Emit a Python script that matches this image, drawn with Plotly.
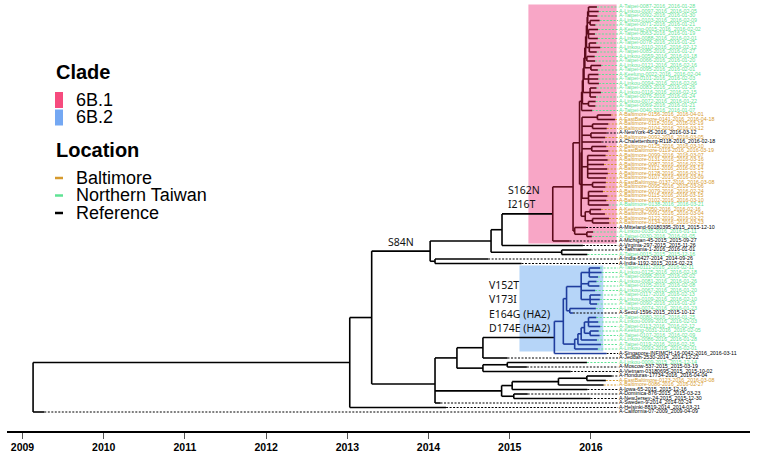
import plotly.graph_objects as go
from datetime import date

# ---------------- data ----------------
tip_labels = [
    "A-Taipei-0087-2016_2016-01-28", "A-Linkou-0097-2016_2016-02-05", "A-Taipei-0092-2016_2016-01-30",
    "A-Linkou-0103-2016_2016-02-09", "A-Taipei-0071-2016_2016-01-21", "A-Keelung-0015-2016_2016-02-02",
    "A-Taipei-0063-2016_2016-01-19", "A-Linkou-0088-2016_2016-02-01", "A-Taipei-0078-2016_2016-01-25",
    "A-Linkou-0110-2016_2016-02-12", "A-Taipei-0085-2016_2016-01-27", "A-Linkou-0059-2016_2016-01-18",
    "A-Taipei-0066-2016_2016-01-20", "A-Linkou-0121-2016_2016-02-16", "A-Taipei-0095-2016_2016-02-01",
    "A-Keelung-0022-2016_2016-02-04", "A-Taipei-0101-2016_2016-02-03", "A-Linkou-0094-2016_2016-02-06",
    "A-Taipei-0083-2016_2016-01-26", "A-Linkou-0116-2016_2016-02-15", "A-Taipei-0076-2016_2016-01-24",
    "A-Linkou-0072-2016_2016-01-22", "A-Taipei-0069-2016_2016-01-21", "A-Taipei-0040-2016_2016-01-07",
    "A-Baltimore-0156-2016_2016-04-01", "A-EastBaltimore-0141-2016_2016-04-18", "A-Baltimore-0118-2016_2016-03-19",
    "A-Baltimore-0104-2016_2016-03-12", "A-NewYork-45-2016_2016-03-12", "A-Baltimore-0092-2016_2016-03-05",
    "A-Chalettenburg-R118-2016_2016-02-18", "A-Baltimore-0125-2016_2016-03-10", "A-EastBaltimore-0119-2016_2016-03-19",
    "A-Baltimore-0099-2016_2016-03-07", "A-Baltimore-0131-2016_2016-03-16", "A-Baltimore-0087-2016_2016-02-29",
    "A-Baltimore-0112-2016_2016-03-14", "A-Baltimore-0128-2016_2016-03-17", "A-Baltimore-0107-2016_2016-03-09",
    "A-EastBaltimore-0137-2016_2016-03-08", "A-Baltimore-0095-2016_2016-03-06", "A-Baltimore-0079-2016_2016-02-24",
    "A-Baltimore-0115-2016_2016-03-15", "A-Baltimore-0102-2016_2016-03-10", "A-Baltimore-0138-2016_2016-03-21",
    "A-Keelung-0050-2016_2016-02-16", "A-Baltimore-0091-2016_2016-03-04", "A-Baltimore-0122-2016_2016-03-22",
    "A-Baltimore-0134-2016_2016-03-23", "A-Mitteland-60180395-2015_2015-12-10", "A-Linkou-0035-2016_2016-01-11",
    "A-Taipei-0030-2016_2016-01-05", "A-Michigan-45-2015_2015-09-27", "A-Virginia-297-2015_2015-11-26",
    "A-Tasmania-1-2016_2016-01-01", "A-Taipei-0015-2015_2015-12-16", "A-India-6427-2014_2014-09-26",
    "A-India-1192-2015_2015-02-23",
    "A-Taipei-0111-2016_2016-02-11", "A-Linkou-0125-2016_2016-02-18", "A-Taipei-0098-2016_2016-02-02",
    "A-Linkou-0081-2016_2016-01-26", "A-Taipei-0105-2016_2016-02-08", "A-Linkou-0067-2016_2016-01-20",
    "A-Taipei-0117-2016_2016-02-13", "A-Linkou-0109-2016_2016-02-10", "A-Taipei-0090-2016_2016-01-29",
    "A-Linkou-0074-2016_2016-01-23", "A-Seoul-1596-2015_2015-10-12", "A-Taipei-0080-2016_2016-01-25",
    "A-Linkou-0099-2016_2016-02-03", "A-Taipei-0113-2016_2016-02-12", "A-Keelung-0031-2016_2016-02-05",
    "A-Taipei-0107-2016_2016-02-09", "A-Linkou-0086-2016_2016-01-28", "A-Taipei-0119-2016_2016-02-15",
    "A-Linkou-0093-2016_2016-02-01",
    "A-Singapore-INFIMCH-16-0042-2016_2016-03-11", "A-Jeddah-2530-2014_2014-12-22", "A-Linkou-0009-2015_2015-12-14",
    "A-Moscow-537-2015_2015-03-19", "A-Vietnam-03180695-2015_2015-10-02", "A-Honduras-17734-2016_2016-04-04",
    "A-EastBaltimore-0123-2016_2016-03-08", "A-Baltimore-0086-2016_2016-02-27", "A-Iowa-65-2015_2015-12-16",
    "A-Dominica-876-2015_2015-03-23", "A-NewJersey-24-2015_2015-12-30", "A-Sweden-9-2014_2014-02-24",
    "A-Helsinki-8819-2014_2014-03-21", "A-California-07-2009_2009-04-09",
]
# N = Northern Taiwan, B = Baltimore, R = Reference
tip_location = list(
    "NNNNNNNNNNNNNNNNNNNNNNNN"
    "BBBBRBRBBBBBBBBBBBBBNBBB"
    "B"
    "RNNRRRNRR"
    "NNNNNNNNNNRNNNNNNNN"
    "RRNRRRBBRRRRRR"
)
tip_parent = (
    ["G1"] * 3 + ["G2"] * 2 + ["G3"] * 3 + ["G4"] * 3 + ["G5"] * 2 + ["G6"] * 2 + ["G7"] * 3 + ["G8"] * 3
    + ["G9"] * 2 + ["PG"]
    + ["O1"] * 2 + ["O2"] * 2 + ["O3"] * 2 + ["PO1"] + ["O4"] * 2 + ["O5"] * 6 + ["O6"] * 2 + ["O7"] * 4
    + ["O8"] * 2 + ["O9"] * 2
    + ["PM", "PL", "PL", "P1", "N6", "N7", "N7", "NI", "NI"]
    + ["B6"] * 3 + ["B7"] * 2 + ["B4"] + ["B8"] * 3 + ["B5", "B5"] + ["B9"] * 3 + ["B10"] * 2
    + ["B3b", "B3a", "B3"]
    + ["B0", "N11", "N13", "N13", "N12", "N18", "N18", "N17", "N15", "N16", "N16", "N4", "N1", "R"]
)

node_names = ["R", "N1", "N2", "N3", "N5", "N6", "P1", "P2", "P3", "PG",
              "L1", "L2", "L3", "L4", "L5", "L6", "L7", "L8",
              "G1", "G2", "G3", "G4", "G5", "G6", "G7", "G8", "G9",
              "PO", "PO1", "PO2", "O1", "O2", "O3", "O4", "O5", "O6", "O7", "O8", "O9",
              "PM", "PL", "N7", "NI", "N4", "N9", "N11", "B0", "B1", "B2", "B4",
              "B6", "B7", "B8", "B5", "B3", "B3a", "B3b", "B3c", "B9", "B10",
              "N12", "N13", "N10", "N15", "N17", "N18", "N16"]
node_parent = [None, "R", "N1", "N2", "N3", "N5", "N6", "P1", "P2", "P3",
               "PG", "L1", "L2", "L3", "L4", "L5", "L6", "L7",
               "L8", "L8", "L7", "L6", "L5", "L4", "L3", "L2", "L1",
               "P3", "PO", "PO", "PO1", "PO1", "PO1", "PO1", "PO1", "PO1", "PO1", "PO2", "PO2",
               "P2", "PM", "N5", "N3", "N2", "N4", "N9", "N11", "B0", "B1", "B2",
               "B4", "B4", "B4", "B2", "B1", "B3", "B3a", "B3b", "B3c", "B3c",
               "N9", "N12", "N4", "N10", "N15", "N17", "N10"]
node_date = [2009.13, 2013.03, 2013.30, 2014.02, 2014.77, 2014.905, 2015.53, 2015.78, 2015.86, 2015.885,
             2015.895, 2015.905, 2015.915, 2015.925, 2015.935, 2015.945, 2015.955, 2015.96,
             2015.97, 2015.99, 2015.97, 2015.98, 2015.95, 2016.00, 2015.97, 2015.99, 2015.97,
             2015.88, 2015.89, 2015.93, 2016.08, 2016.02, 2016.00, 2016.01, 2015.96, 2016.02, 2015.97, 2015.99, 2016.02,
             2015.80, 2015.95, 2015.64, 2014.08, 2014.08, 2014.35, 2014.67, 2015.55, 2015.66, 2015.70, 2015.88,
             2015.98, 2015.97, 2015.99, 2015.74, 2015.80, 2015.84, 2015.88, 2015.92, 2015.97, 2015.99,
             2014.67, 2014.97, 2014.90, 2015.03, 2015.60, 2015.95, 2015.05]

clade_names = ["6B.1", "6B.2"]
clade_roots = ["P1", "B0"]
clade_box_start = [2015.23, 2015.12]
clade_box_tips = [(0, 52), (58, 76)]

mutation_groups = [["S84N"], ["S162N", "I216T"], ["V152T", "V173I", "E164G (HA2)", "D174E (HA2)"]]
mutation_nodes = ["N3", "P1", "B0"]

year_ticks = [2009, 2010, 2011, 2012, 2013, 2014, 2015, 2016]
location_names = ["Baltimore", "Northern Taiwan", "Reference"]

# ---------------- styles ----------------
LOC_COLOR = {"B": "#d69a2d", "N": "#5fe394", "R": "#000000"}
CLADE_FILL = ["#f8a6c6", "#b6d5f8"]
CLADE_LEGEND = ["#f64b7e", "#74a8f3"]
CLADE_LINE = ["#5c0b1b", "#1f3d9e"]
FONT = "Liberation Sans, Arial, sans-serif"

def dec_year(s):
    y, m, d = map(int, s[-10:].split("-"))
    dt = date(y, m, d)
    return y + (dt - date(y, 1, 1)).days / 365.0

tip_date = [dec_year(s) for s in tip_labels]
label_x = 2016.345

# ---------------- tree layout ----------------
parent = {}
xdate = {}
for n, p, d in zip(node_names, node_parent, node_date):
    parent[n] = p
    xdate[n] = d
children = {n: [] for n in node_names}
ypos = {}
for i, (p, d) in enumerate(zip(tip_parent, tip_date)):
    t = "t%d" % i
    parent[t] = p
    xdate[t] = d
    ypos[t] = i
    children[p].append(t)
for n, p in zip(node_names, node_parent):
    if p is not None:
        children[p].append(n)

def get_y(n):
    if n in ypos:
        return ypos[n]
    ys = [get_y(c) for c in children[n]]
    ypos[n] = sum(ys) / len(ys)
    return ypos[n]

get_y("R")

def clade_of(n):
    cur = parent.get(n)
    while cur is not None:
        if cur in clade_roots:
            return clade_roots.index(cur)
        cur = parent.get(cur)
    return None

seg = {None: ([], []), 0: ([], []), 1: ([], [])}
for n in list(parent.keys()):
    p = parent[n]
    if p is None:
        continue
    c = clade_of(n)
    xs, ys = seg[c]
    xs += [xdate[p], xdate[n], None]
    ys += [ypos[n], ypos[n], None]
for n in node_names:
    ys_c = [ypos[c] for c in children[n]]
    c = clade_roots.index(n) if n in clade_roots else clade_of(n)
    xs, ys = seg[c]
    xs += [xdate[n], xdate[n], None]
    ys += [min(ys_c), max(ys_c), None]

fig = go.Figure()

# clade boxes
for k in range(2):
    a, b = clade_box_tips[k]
    right = max(tip_date[a:b + 1]) + 0.02
    fig.add_shape(type="rect", xref="x", yref="y", x0=clade_box_start[k], x1=right,
                  y0=a - 0.55, y1=b + 0.55, fillcolor=CLADE_FILL[k], line_width=0, layer="below")

# dashed leaders
for loc in ["N", "B", "R"]:
    xs, ys = [], []
    for i, l in enumerate(tip_location):
        if l == loc:
            xs += [tip_date[i], label_x - 0.01, None]
            ys += [i, i, None]
    fig.add_trace(go.Scatter(x=xs, y=ys, mode="lines", hoverinfo="skip", showlegend=False,
                             line=dict(color=LOC_COLOR[loc], width=1, dash="2px,1.5px")))

for c, col in [(None, "#000000"), (0, CLADE_LINE[0]), (1, CLADE_LINE[1])]:
    xs, ys = seg[c]
    fig.add_trace(go.Scatter(x=xs, y=ys, mode="lines", hoverinfo="skip", showlegend=False,
                             line=dict(color=col, width=1.6)))

# tip labels
for loc in ["N", "B", "R"]:
    idx = [i for i, l in enumerate(tip_location) if l == loc]
    fig.add_trace(go.Scatter(x=[label_x] * len(idx), y=idx, mode="text",
                             text=[tip_labels[i] for i in idx], textposition="middle right",
                             textfont=dict(size=5.3, color=LOC_COLOR[loc], family=FONT),
                             hoverinfo="skip", showlegend=False))

# mutation annotations
for grp, node in zip(mutation_groups, mutation_nodes):
    p = parent[node]
    y0 = ypos[node]
    n = len(grp)
    for j, txt in enumerate(grp):
        if node == "N3":
            xx, anchor = (xdate[p] + xdate[node]) / 2, "center"
        else:
            xx, anchor = xdate[p] + 0.05, "left"
        fig.add_annotation(x=xx, y=y0 - 2.1 - (n - 1 - j) * 3.18, text=txt, showarrow=False,
                           xanchor=anchor, yanchor="middle",
                           font=dict(size=10.5, family="Noto Sans, Open Sans, sans-serif", color="#111111"))

# legend (paper coords of plot area: x 7..750 px, y 0..PLOT_H px)
PLOT_H = 431.0

def px_x(p):
    return (p - 7) / 743.0

def px_y(p):
    return (PLOT_H - p) / PLOT_H

fig.add_annotation(xref="paper", yref="paper", x=px_x(54), y=px_y(72), text="<b>Clade</b>",
                   showarrow=False, xanchor="left", yanchor="middle", font=dict(size=20, family=FONT, color="black"))
for k, nm in enumerate(clade_names):
    yc = 100 + k * 17.5
    fig.add_shape(type="rect", xref="paper", yref="paper", x0=px_x(55), x1=px_x(63),
                  y0=px_y(yc + 8), y1=px_y(yc - 8), fillcolor=CLADE_LEGEND[k], line_width=0)
    fig.add_annotation(xref="paper", yref="paper", x=px_x(74), y=px_y(yc), text=nm, showarrow=False,
                       xanchor="left", yanchor="middle", font=dict(size=18, family=FONT, color="black"))
fig.add_annotation(xref="paper", yref="paper", x=px_x(54), y=px_y(150), text="<b>Location</b>",
                   showarrow=False, xanchor="left", yanchor="middle", font=dict(size=20, family=FONT, color="black"))
for k, (nm, loc) in enumerate(zip(location_names, ["B", "N", "R"])):
    yc = 178 + k * 17.5
    fig.add_shape(type="line", xref="paper", yref="paper", x0=px_x(55), x1=px_x(63),
                  y0=px_y(yc), y1=px_y(yc), line=dict(color=LOC_COLOR[loc], width=2.5))
    fig.add_annotation(xref="paper", yref="paper", x=px_x(74), y=px_y(yc), text=nm, showarrow=False,
                       xanchor="left", yanchor="middle", font=dict(size=18, family=FONT, color="black"))

# y range keeps tip i at pixel 7 + 4.5 i within the plot area
y_top = -7 / 4.5
y_bot = (PLOT_H - 7) / 4.5

fig.update_layout(
    width=757, height=454, margin=dict(l=7, r=7, t=0, b=454 - int(PLOT_H)),
    plot_bgcolor="white", paper_bgcolor="white",
    xaxis=dict(range=[2008.809, 2017.959], showgrid=False, zeroline=False, showline=True,
               linecolor="black", linewidth=1.5, ticks="outside", ticklen=6, tickwidth=1.2,
               tickcolor="#555555", tickvals=year_ticks, ticktext=["<b>%d</b>" % y for y in year_ticks],
               tickfont=dict(size=10.5, family=FONT, color="black"), fixedrange=True),
    yaxis=dict(range=[y_bot, y_top], visible=False, fixedrange=True),
)
fig.write_html("out.html", config={"displayModeBar": False},
               post_script="document.body.style.margin='0px';document.body.style.overflow='hidden';")
